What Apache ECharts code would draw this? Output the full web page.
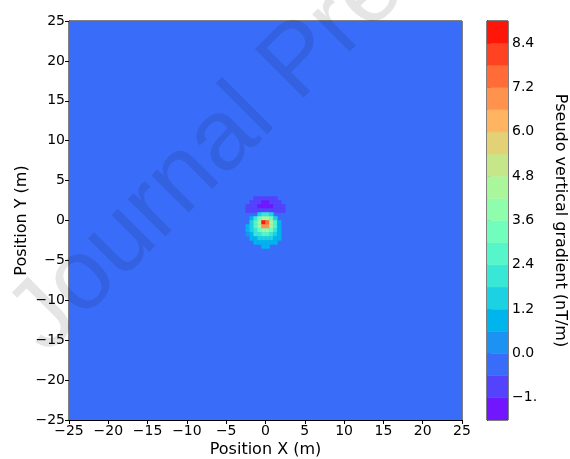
<!DOCTYPE html>
<html><head><meta charset="utf-8">
<script src="https://cdn.jsdelivr.net/npm/echarts@6/dist/echarts.min.js"></script>
<style>html,body{margin:0;padding:0;background:#fff}#c{width:570px;height:459px}</style>
</head><body><div id="c"></div>
<script>
// contour levels of the colour bar (nT/m)
const levels = [-1.8,-1.2,-0.6,0.0,0.6,1.2,1.8,2.4,3.0,3.6,4.2,4.8,5.4,6.0,6.6,7.2,7.8,8.4,9.0];
const colorbarTicks = [-1.2,0.0,1.2,2.4,3.6,4.8,6.0,7.2,8.4];
const colorbarTickLabels = ['\u22121.','0.0','1.2','2.4','3.6','4.8','6.0','7.2','8.4'];
// survey extent (m)
const xRange = [-25, 25];
const yRange = [-25, 25];
const backgroundValue = -0.3;
// gridded anomaly near the origin (cell centres, m)
const cellSize = 0.5;
const xCenters = [-2.25,-1.75,-1.25,-0.75,-0.25,0.25,0.75,1.25,1.75,2.25];
const yCenters = [2.75,2.25,1.75,1.25,0.75,0.25,-0.25,-0.75,-1.25,-1.75,-2.25,-2.75,-3.25];
const anomalyRows = [
  [null,null,-0.9,-0.9,-0.9,-0.9,-0.9,-0.9,null,null],
  [null,-0.9,-0.9,-0.9,-1.5,-1.5,-0.9,-0.9,-0.9,null],
  [-0.9,-0.9,-0.9,-1.5,-1.5,-1.5,-1.5,-0.9,-0.9,-0.9],
  [-0.9,-0.9,-0.9,-0.9,-0.9,-0.9,-0.9,-0.9,-0.9,-0.9],
  [null,null,null,1.6,2.0,2.0,1.5,null,null,null],
  [null,1.0,2.2,3.3,4.6,4.6,3.3,1.5,null,null],
  [null,1.2,2.6,4.3,8.7,7.4,4.3,2.5,1.0,null],
  [0.7,1.7,2.6,4.2,7.0,6.7,4.2,2.5,1.0,null],
  [0.7,1.5,2.2,3.1,4.0,4.0,3.1,2.2,1.1,null],
  [0.5,1.0,1.8,2.3,2.6,2.6,2.3,1.7,0.9,null],
  [null,0.6,1.0,1.5,1.7,1.7,1.5,1.0,0.6,null],
  [null,null,0.6,0.9,1.1,1.1,0.9,0.6,null,null],
  [null,null,null,null,0.7,0.7,null,null,null,null]
];

// rainbow palette, one colour per band
const bandColors = ['#7116ff','#5542fd','#396cf9','#1c92f3','#00b4ec','#1cd1e2','#39e7d7','#55f6ca','#71febc',
  '#8efeac','#aaf69b','#c6e789','#e3d176','#ffb462','#ff924d','#ff6c37','#ff4221','#ff160b'];

function bandColor(v){
  for (let i = 0; i < levels.length - 1; i++) {
    if (v >= levels[i] && v < levels[i+1]) return bandColors[i];
  }
  return v < levels[0] ? bandColors[0] : bandColors[bandColors.length-1];
}

const fieldData = [[xRange[0], xRange[1], yRange[0], yRange[1], backgroundValue]];
yCenters.forEach((yc, r) => {
  xCenters.forEach((xc, c) => {
    const v = anomalyRows[r][c];
    if (v !== null) fieldData.push([xc - cellSize/2, xc + cellSize/2, yc - cellSize/2, yc + cellSize/2, v]);
  });
});
const barData = [];
for (let i = 0; i < levels.length - 1; i++) barData.push([0, 1, levels[i], levels[i+1], (levels[i]+levels[i+1])/2]);

function renderRect(params, api){
  const p0 = api.coord([api.value(0), api.value(3)]);
  const p1 = api.coord([api.value(1), api.value(2)]);
  const col = bandColor(api.value(4));
  return {type:'rect', shape:{x:p0[0], y:p0[1], width:p1[0]-p0[0], height:p1[1]-p0[1]},
    style:{fill:col, stroke:col, lineWidth:0.5}};
}

const FONT = 'DejaVu Sans';
const minus = v => (v < 0 ? '\u2212' + Math.abs(v) : String(v));

const chart = echarts.init(document.getElementById('c'), null, {renderer:'canvas'});
chart.setOption({
  animation:false,
  textStyle:{fontFamily:FONT},
  grid:[
    {left:69, top:21, width:393, height:399, show:true, borderColor:'#000', borderWidth:1, backgroundColor:'transparent',
     containLabel:false, outerBoundsMode:'none'},
    {left:487, top:21, width:21, height:399, show:true, borderColor:'#000', borderWidth:1, backgroundColor:'transparent',
     containLabel:false, outerBoundsMode:'none'}
  ],
  xAxis:[
    {type:'value', gridIndex:0, min:xRange[0], max:xRange[1], interval:5,
     name:'Position X (m)', nameLocation:'middle', nameGap:22, nameMoveOverlap:false,
     nameTextStyle:{fontFamily:FONT, fontSize:16, color:'#000'},
     axisLine:{show:true, onZero:false, lineStyle:{color:'#000'}},
     axisTick:{show:true, length:4, lineStyle:{color:'#000'}},
     axisLabel:{fontFamily:FONT, fontSize:14, color:'#000', margin:4, formatter:minus},
     splitLine:{show:false}},
    {type:'value', gridIndex:1, min:0, max:1, show:false}
  ],
  yAxis:[
    {type:'value', gridIndex:0, min:yRange[0], max:yRange[1], interval:5,
     name:'Position Y (m)', nameLocation:'middle', nameGap:39, nameRotate:90, nameMoveOverlap:false,
     nameTextStyle:{fontFamily:FONT, fontSize:16, color:'#000'},
     axisLine:{show:true, onZero:false, lineStyle:{color:'#000'}},
     axisTick:{show:true, length:4, lineStyle:{color:'#000'}},
     axisLabel:{fontFamily:FONT, fontSize:14, color:'#000', margin:4, formatter:minus},
     splitLine:{show:false}},
    {type:'value', gridIndex:1, min:levels[0], max:levels[levels.length-1], position:'right',
     name:'Pseudo vertical gradient (nT/m)', nameLocation:'middle', nameGap:44, nameRotate:-90,
     nameTextStyle:{fontFamily:FONT, fontSize:16, color:'#000'},
     axisLine:{show:true, lineStyle:{color:'#000'}},
     axisTick:{show:true, length:4, lineStyle:{color:'#000'}, customValues:colorbarTicks},
     axisLabel:{fontFamily:FONT, fontSize:14, color:'#000', margin:4, customValues:colorbarTicks,
       formatter:(v) => { const i = colorbarTicks.findIndex(t => Math.abs(t - v) < 1e-6); return i >= 0 ? colorbarTickLabels[i] : ''; }},
     splitLine:{show:false}}
  ],
  series:[
    {type:'custom', xAxisIndex:0, yAxisIndex:0, renderItem:renderRect, data:fieldData, clip:true,
     encode:{x:[0,1], y:[2,3]}, silent:true},
    {type:'custom', xAxisIndex:1, yAxisIndex:1, renderItem:renderRect, data:barData, clip:true,
     encode:{x:[0,1], y:[2,3]}, silent:true}
  ],
  graphic:[
    {type:'text', x:62, y:371, rotation:Math.PI/4, z:100, silent:true,
     style:{text:'Journal Pre-proof', font:'100px "Liberation Sans"', fill:'rgba(0,0,0,0.1)', verticalAlign:'bottom', align:'left'}}
  ]
});
</script></body></html>
